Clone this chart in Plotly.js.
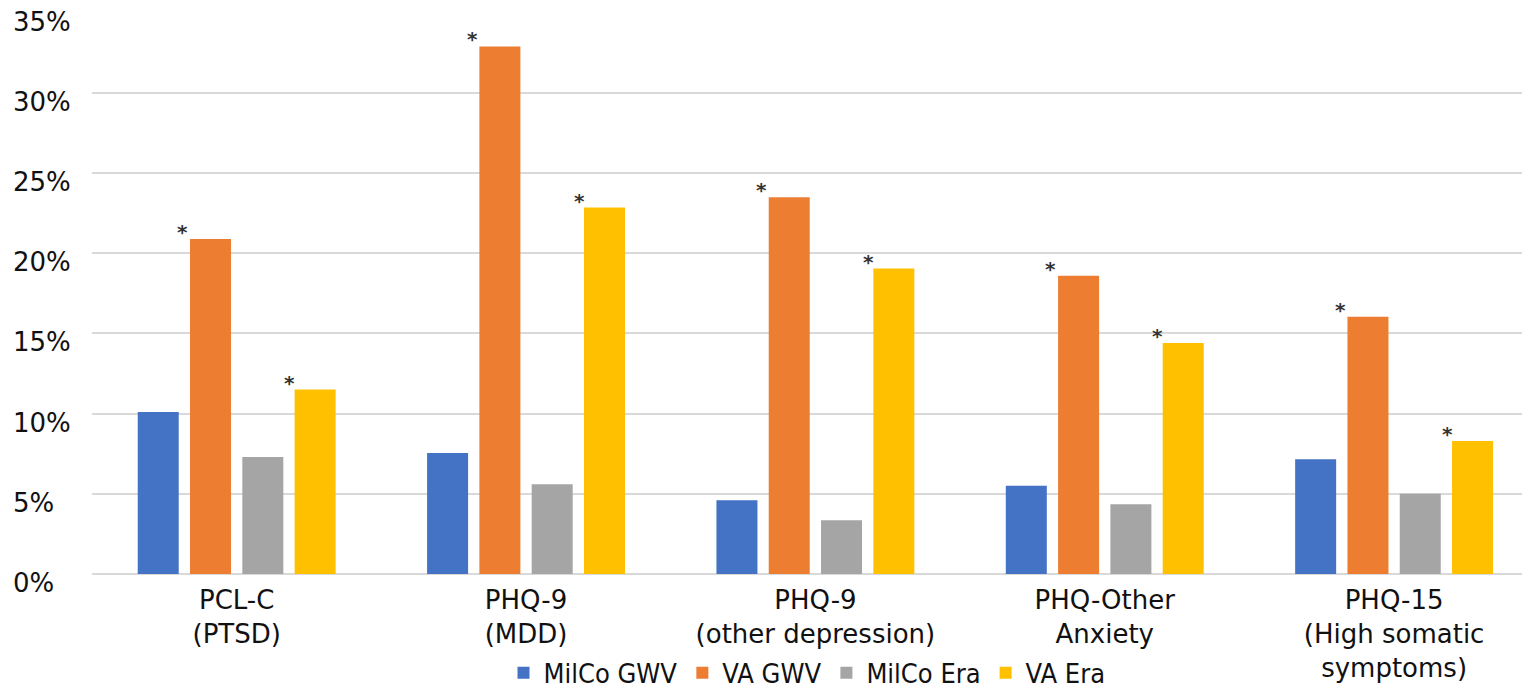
<!DOCTYPE html>
<html>
<head>
<meta charset="utf-8">
<script src="https://cdn.plot.ly/plotly-3.0.1.min.js"></script>
<style>html,body{margin:0;padding:0;background:#fff;}#chart{width:1522px;height:694px;}</style>
</head>
<body>
<div id="chart"></div>
<script>
var categories = ["PCL-C<br>(PTSD)", "PHQ-9<br>(MDD)", "PHQ-9<br>(other depression)", "PHQ-Other<br>Anxiety", "PHQ-15<br>(High somatic<br>symptoms)"];
var milcoGWV = [10.1, 7.55, 4.6, 5.5, 7.15];
var vaGWV    = [20.9, 32.9, 23.5, 18.6, 16.05];
var milcoEra = [7.3, 5.6, 3.35, 4.35, 5.0];
var vaEra    = [11.5, 22.85, 19.05, 14.4, 8.3];
var sigVaGWV = [true, true, true, true, true];
var sigVaEra = [true, true, true, true, true];
var yTicks = [0, 5, 10, 15, 20, 25, 30, 35];
var yTickText = ["0%", "5%", "10%", "15%", "20%", "25%", "30%", "35%"];

var seriesNames = ["MilCo GWV", "VA GWV", "MilCo Era", "VA Era"];
var seriesVals = [milcoGWV, vaGWV, milcoEra, vaEra];
var colors = ["#4472C4", "#ED7D31", "#A5A5A5", "#FFC000"];

var traces = seriesVals.map(function (v, i) {
  return {
    type: "bar", name: seriesNames[i], x: categories, y: v,
    marker: {color: colors[i]}, hoverinfo: "skip"
  };
});

var annotations = [];
yTicks.forEach(function (t, i) {
  annotations.push({
    xref: "paper", yref: "y", x: -0.0566, y: t, xanchor: "left", yanchor: "middle",
    yshift: -9, text: yTickText[i], showarrow: false,
    font: {family: "DejaVu Sans", size: 26, color: "#111"}
  });
});
categories.forEach(function (c, i) {
  if (sigVaGWV[i]) annotations.push({x: c, y: vaGWV[i], xref: "x", yref: "y", text: "<b>*</b>", showarrow: false,
    xanchor: "center", yanchor: "bottom", xshift: -54, yshift: -7, font: {family: "DejaVu Sans", size: 20, color: "#333"}});
  if (sigVaEra[i]) annotations.push({x: c, y: vaEra[i], xref: "x", yref: "y", text: "<b>*</b>", showarrow: false,
    xanchor: "center", yanchor: "bottom", xshift: 53, yshift: -7, font: {family: "DejaVu Sans", size: 20, color: "#333"}});
});

var layout = {
  width: 1522, height: 694,
  margin: {l: 92, r: 0, t: 12, b: 120, autoexpand: false},
  paper_bgcolor: "#fff", plot_bgcolor: "#fff",
  font: {family: "DejaVu Sans", color: "#111"},
  barmode: "group", bargap: 0.277, bargroupgap: 0.216,
  xaxis: {
    type: "category", range: [-0.5, 4.442], showgrid: false, showline: false, ticks: "",
    automargin: false, ticklabelstandoff: 8,
    tickfont: {family: "DejaVu Sans", size: 26, color: "#111"}, fixedrange: true
  },
  yaxis: {
    range: [0, 35.05], tickvals: yTicks, showticklabels: false, showgrid: true, automargin: false,
    gridcolor: "#d9d9d9", gridwidth: 2, zeroline: true, zerolinecolor: "#d9d9d9", zerolinewidth: 2,
    showline: false, ticks: "", fixedrange: true
  },
  showlegend: true,
  legend: {
    orientation: "h", x: 0.5, xanchor: "center", xref: "paper",
    yref: "container", y: 0.03, yanchor: "middle",
    font: {family: "DejaVu Sans Condensed", size: 27, color: "#111"},
    traceorder: "normal", bgcolor: "rgba(0,0,0,0)"
  },
  annotations: annotations
};

Plotly.newPlot("chart", traces, layout, {displayModeBar: false, staticPlot: true});
</script>
</body>
</html>
